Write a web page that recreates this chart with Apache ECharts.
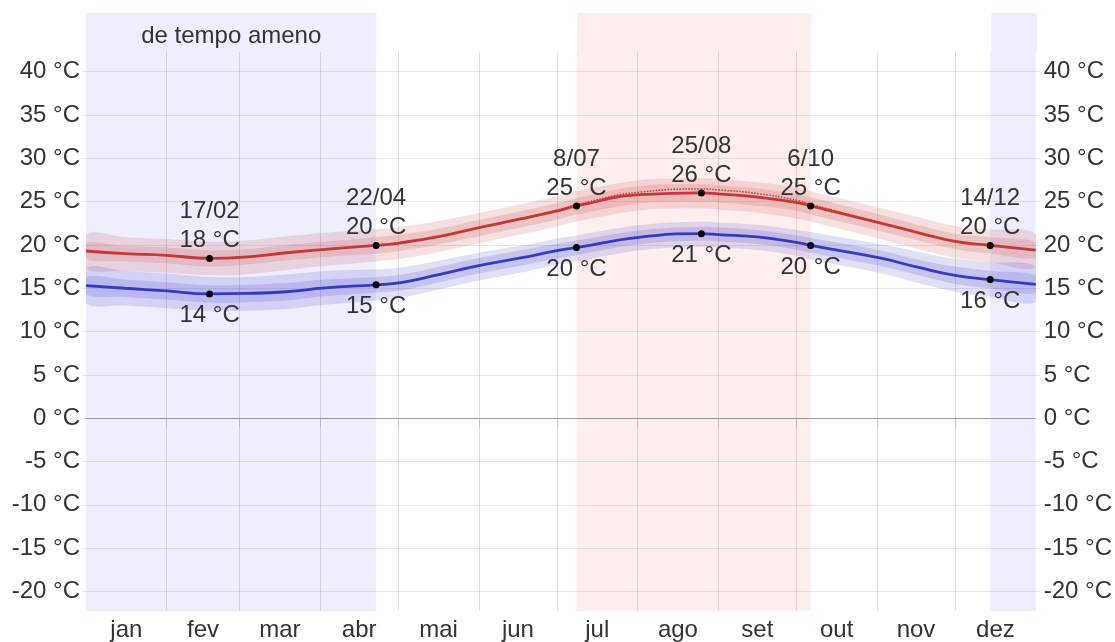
<!DOCTYPE html>
<html>
<head>
    <meta charset="utf-8">
    <title>Temperatura média</title>
    <script src="https://cdn.jsdelivr.net/npm/echarts@6/dist/echarts.min.js"></script>
    <style>
        *{padding:0;margin:0}
        body{background:#fff}
        #chart{width:1115px;height:642px}
    </style>
</head>
<body>
<div id="chart"></div>
<script>
    // dias do ano (0 = 1 jan)
    var days = [0,15,31,47.5,61,77,92,111.5,121,136,151,167,182,188.5,213,236.5,243,259,274,278.5,305,320,334,347.5,365];

    // máxima média e percentis
    var high    = [19.3,19.0,18.8,18.45,18.6,19.1,19.5,19.95,20.25,21.0,22.0,23.0,24.0,24.5,25.8,26.0,25.9,25.5,24.85,24.5,22.55,21.4,20.4,19.95,19.4];
    var highP10 = [17.3,17.0,16.8,16.5,16.6,17.1,17.6,18.1,18.4,19.2,20.2,21.2,22.2,22.7,24.0,24.2,24.1,23.7,23.0,22.7,20.7,19.5,18.5,18.0,17.4];
    var highP25 = [18.4,18.1,17.9,17.5,17.7,18.2,18.6,19.0,19.3,20.1,21.0,22.0,23.0,23.5,24.8,25.0,24.9,24.5,23.9,23.5,21.6,20.5,19.5,19.0,18.5];
    var highP75 = [20.2,19.9,19.7,19.4,19.5,20.0,20.4,20.9,21.2,21.9,22.9,23.9,24.9,25.4,26.8,27.0,26.9,26.5,25.8,25.5,23.5,22.3,21.3,20.9,20.3];
    var highP90 = [21.2,20.9,20.7,20.4,20.5,21.0,21.4,21.8,22.1,22.8,23.7,24.7,25.7,26.2,27.5,27.7,27.6,27.2,26.6,26.2,24.3,23.2,22.2,21.8,21.3];
    var highFeels = [19.3,19.0,18.8,18.5,18.6,19.1,19.5,20.0,20.3,21.0,22.0,23.05,24.1,24.65,26.1,26.45,26.35,25.9,25.1,24.7,22.6,21.4,20.4,19.95,19.4];

    // mínima média e percentis
    var low    = [15.3,15.0,14.7,14.35,14.4,14.6,15.05,15.4,15.65,16.6,17.6,18.5,19.4,19.7,20.9,21.3,21.2,20.9,20.25,19.95,18.5,17.4,16.5,16.0,15.45];
    var lowP10 = [13.3,13.0,12.7,12.4,12.4,12.6,13.1,13.6,13.9,14.9,15.9,16.8,17.8,18.1,19.4,19.8,19.7,19.4,18.7,18.3,16.8,15.6,14.6,14.0,13.45];
    var lowP25 = [14.3,14.0,13.7,13.35,13.4,13.6,14.1,14.5,14.75,15.7,16.7,17.6,18.5,18.85,20.1,20.5,20.4,20.1,19.4,19.1,17.6,16.5,15.5,15.0,14.45];
    var lowP75 = [16.3,16.0,15.7,15.35,15.4,15.6,16.0,16.3,16.55,17.5,18.5,19.4,20.2,20.5,21.7,22.1,22.0,21.7,21.05,20.8,19.4,18.3,17.5,17.0,16.45];
    var lowP90 = [17.3,17.0,16.7,16.3,16.3,16.6,17.0,17.2,17.4,18.2,19.1,19.9,20.8,21.1,22.3,22.7,22.6,22.3,21.7,21.5,20.1,19.2,18.4,18.0,17.45];

    // pontos marcados
    var markDays  = [47.5,111.5,188.5,236.5,278.5,347.5];
    var markDates = ['17/02','22/04','8/07','25/08','6/10','14/12'];
    var markHigh  = [18.45,19.95,24.5,26.0,24.5,19.95];
    var markHighText = ['18 °C','20 °C','25 °C','26 °C','25 °C','20 °C'];
    var markLow   = [14.35,15.4,19.7,21.3,19.95,16.0];
    var markLowText  = ['14 °C','15 °C','20 °C','21 °C','20 °C','16 °C'];

    // estações
    var coolSeasons = [[0,111.5],[347.5,365]];
    var warmSeason  = [188.5,278.5];
    var coolLabel = 'de tempo ameno';

    var months = ['jan','fev','mar','abr','mai','jun','jul','ago','set','out','nov','dez'];
    var monthStarts = [0,31,59,90,120,151,181,212,243,273,304,334,365];

    var FONT = 'Liberation Sans, Arial, sans-serif';
    var FS = 24;
    var TXT = '#333';
    var RED = '#c43838', BLUE = '#3838c4';
    var COOL_BG = 'rgba(0,0,255,0.067)', WARM_BG = 'rgba(255,0,0,0.067)';

    function pairs(arr){ return days.map(function(d,i){ return [d, arr[i]]; }); }

    var midMonths = months.map(function(m,i){ return (monthStarts[i]+monthStarts[i+1])/2; });

    // faixa entre dois percentis, desenhada com as escalas do gráfico
    function band(lo, hi, color){
        return {
            type:'custom', xAxisIndex:0, yAxisIndex:0, silent:true, clip:true,
            data:[[days[0], lo[0]]],
            renderItem:function(params, api){
                var pts = [];
                for (var i = 0; i < days.length; i++) pts.push(api.coord([days[i], hi[i]]));
                for (var j = days.length - 1; j >= 0; j--) pts.push(api.coord([days[j], lo[j]]));
                return {type:'polygon', shape:{points:pts, smooth:0.35}, style:{fill:color}};
            }
        };
    }

    var yLabel = function(v){ return (Math.abs(v % 5) < 1e-6) ? v + ' °C' : ''; };
    var gridColor = 'rgba(0,0,0,0.09)';
    var vColor = 'rgba(0,0,0,0.13)';

    var seasonMain = coolSeasons.map(function(s){ return [{xAxis:s[0], itemStyle:{color:COOL_BG}}, {xAxis:s[1]}]; })
        .concat([[{xAxis:warmSeason[0], itemStyle:{color:WARM_BG}}, {xAxis:warmSeason[1]}]]);
    var seasonTop = coolSeasons.map(function(s, i){
        return [{xAxis:s[0], name: i === 0 ? coolLabel : '', itemStyle:{color:COOL_BG}}, {xAxis:s[1]}];
    }).concat([[{xAxis:warmSeason[0], name:'', itemStyle:{color:WARM_BG}}, {xAxis:warmSeason[1]}]]);

    var series = [
        {type:'line', xAxisIndex:0, yAxisIndex:0, data:[], silent:true, z:0,
            markArea:{silent:true, label:{show:false}, data:seasonMain},
            markLine:{silent:true, symbol:'none', label:{show:false},
                lineStyle:{color:'#9a9a9a', width:1, type:'solid'}, data:[{yAxis:0}]}},
        {type:'line', xAxisIndex:1, yAxisIndex:2, data:[], silent:true,
            markArea:{silent:true, label:{show:true, position:'inside', offset:[0,4], color:TXT,
                fontSize:FS, fontFamily:FONT}, data:seasonTop}},
        band(highP10, highP90, 'rgba(196,60,60,0.16)'),
        band(highP25, highP75, 'rgba(196,60,60,0.17)'),
        band(lowP10, lowP90, 'rgba(60,60,200,0.16)'),
        band(lowP25, lowP75, 'rgba(60,60,200,0.17)'),
        {type:'line', data:pairs(highFeels), smooth:true, symbol:'none', silent:true,
            lineStyle:{color:RED, width:1.5, type:'dotted'}},
        {type:'line', data:pairs(high), smooth:true, symbol:'none', silent:true,
            lineStyle:{color:RED, width:2.8}},
        {type:'line', data:pairs(low), smooth:true, symbol:'none', silent:true,
            lineStyle:{color:BLUE, width:2.8}},
        {type:'scatter', symbolSize:7, itemStyle:{color:'#000', opacity:1}, z:5, silent:true,
            data:markDays.map(function(d,i){ return [d, markHigh[i], markDates[i] + '\n' + markHighText[i]]; }),
            label:{show:true, position:'top', distance:0, formatter:function(p){ return p.value[2]; },
                color:TXT, fontSize:FS, lineHeight:29, fontFamily:FONT}},
        {type:'scatter', symbolSize:7, itemStyle:{color:'#000', opacity:1}, z:5, silent:true,
            data:markDays.map(function(d,i){ return [d, markLow[i], markLowText[i]]; }),
            label:{show:true, position:'bottom', distance:6, formatter:function(p){ return p.value[2]; },
                color:TXT, fontSize:FS, fontFamily:FONT}}
    ];

    var option = {
        animation:false,
        textStyle:{fontFamily:FONT},
        grid:[
            {left:86, right:78, top:52, bottom:29.3},
            {left:86, right:78, top:13, height:39}
        ],
        xAxis:[
            {type:'value', gridIndex:0, min:0, max:365,
                axisLine:{show:false},
                axisTick:{show:true, length:9, customValues:monthStarts.slice(1,-1), lineStyle:{color:vColor}},
                splitLine:{show:true, lineStyle:{color:vColor}},
                axisLabel:{customValues:midMonths, margin:7, color:TXT, fontSize:FS, fontFamily:FONT,
                    formatter:function(v){
                        var i = midMonths.indexOf(v);
                        return i >= 0 ? months[i] : '';
                    }}},
            {type:'value', gridIndex:1, min:0, max:365, show:false}
        ],
        yAxis:[
            {type:'value', gridIndex:0, min:-22.25, max:42.27, splitNumber:12, minInterval:5, maxInterval:5,
                axisLine:{show:false},
                axisTick:{show:true, length:4, lineStyle:{color:gridColor}},
                axisLabel:{margin:6, color:TXT, fontSize:FS, fontFamily:FONT, formatter:yLabel,
                    showMinLabel:false, showMaxLabel:false},
                splitLine:{show:true, showMinLine:false, showMaxLine:false, lineStyle:{color:gridColor}}},
            {type:'value', gridIndex:0, position:'right', min:-22.25, max:42.27, splitNumber:12, minInterval:5, maxInterval:5,
                axisLine:{show:false},
                axisTick:{show:true, length:4, lineStyle:{color:gridColor}},
                axisLabel:{margin:8, color:TXT, fontSize:FS, fontFamily:FONT, formatter:yLabel,
                    showMinLabel:false, showMaxLabel:false},
                splitLine:{show:false}},
            {type:'value', gridIndex:1, min:0, max:1, show:false}
        ],
        series:series
    };

    var chart = echarts.init(document.getElementById('chart'));
    chart.setOption(option);
</script>
</body>
</html>
